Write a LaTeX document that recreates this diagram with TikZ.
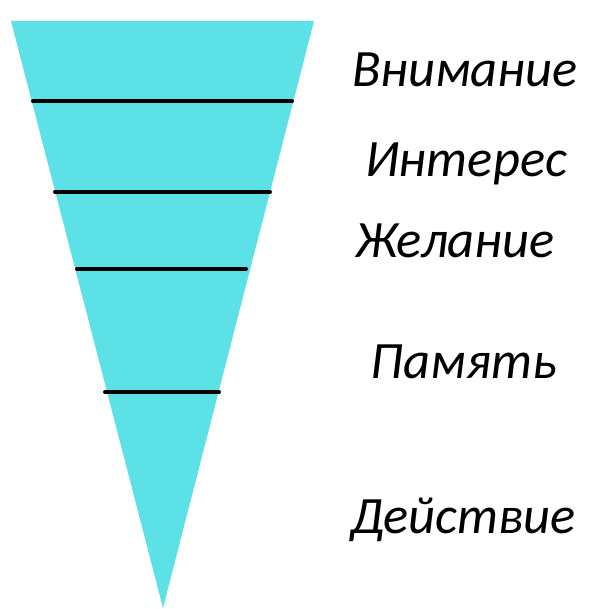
\documentclass[tikz,border=0pt]{standalone}
\usepackage{fontspec}
\setmainfont{Carlito}
\usetikzlibrary{positioning,calc}

\definecolor{funnel}{HTML}{5CE1E6}

\begin{document}
\begin{tikzpicture}[x=1pt,y=-1pt]
  %----- styles
  \tikzset{
    stage/.style ={font=\fontsize{52.5}{63}\selectfont\itshape,inner sep=0pt,anchor=base},
    cut/.style   ={line width=4pt,line cap=round}
  }
  \useasboundingbox (0,0) rectangle (600,609);

  %----- funnel
  \coordinate (tl) at (11,21);
  \coordinate (tr) at (314,21);
  \coordinate (apex) at (163,608);
  \fill[funnel] (tl) -- (tr) -- (apex) -- cycle;

  % dividing lines
  \draw[cut] (33,101.5) -- (292,101.5);
  \draw[cut] (55,192) -- (270,192);
  \draw[cut] (77,269) -- (246,269);
  \draw[cut] (105,392) -- (219,392);

  %----- labels
  \node[stage] (attention) at (465,87)  {Внимание};
  \node[stage] (interest)  at (466,177) {Интерес};
  \node[stage] (desire)    at (455,257) {Желание};
  \node[stage] (memory)    at (464,378) {Память};
  \node[stage] (action)    at (463,533) {Действие};
\end{tikzpicture}
\end{document}
